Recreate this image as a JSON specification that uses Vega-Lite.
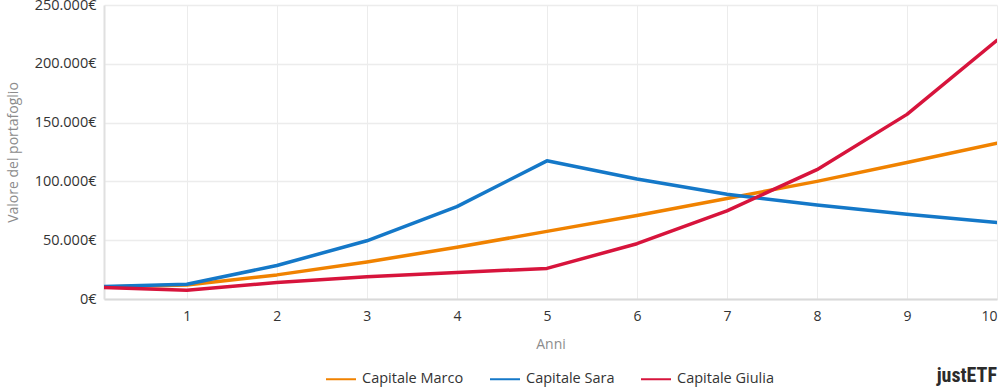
{
  "$schema": "https://vega.github.io/schema/vega-lite/v6.json",
  "width": 893,
  "height": 294,
  "autosize": {"type": "none"},
  "padding": {"left": 104, "top": 5, "right": 3, "bottom": 90},
  "background": "white",
  "config": {
    "font": "Open Sans",
    "view": {"stroke": null},
    "locale": {"number": {"decimal": ",", "thousands": ".", "grouping": [3], "currency": ["", "€"]}}
  },
  "title": {
    "text": "justETF",
    "orient": "bottom",
    "anchor": "end",
    "font": "Roboto Condensed",
    "fontSize": 20,
    "fontWeight": "bold",
    "color": "#2b2b2b",
    "offset": 0,
    "dy": -20
  },
  "data": {
    "values": [
      {"anno": 0, "serie": "Capitale Marco", "valore": 10000},
      {"anno": 1, "serie": "Capitale Marco", "valore": 12000},
      {"anno": 2, "serie": "Capitale Marco", "valore": 20500},
      {"anno": 3, "serie": "Capitale Marco", "valore": 31500},
      {"anno": 4, "serie": "Capitale Marco", "valore": 44000},
      {"anno": 5, "serie": "Capitale Marco", "valore": 57500},
      {"anno": 6, "serie": "Capitale Marco", "valore": 71000},
      {"anno": 7, "serie": "Capitale Marco", "valore": 85500},
      {"anno": 8, "serie": "Capitale Marco", "valore": 100000},
      {"anno": 9, "serie": "Capitale Marco", "valore": 116000},
      {"anno": 10, "serie": "Capitale Marco", "valore": 132500},
      {"anno": 0, "serie": "Capitale Sara", "valore": 10500},
      {"anno": 1, "serie": "Capitale Sara", "valore": 12500},
      {"anno": 2, "serie": "Capitale Sara", "valore": 28500},
      {"anno": 3, "serie": "Capitale Sara", "valore": 49500},
      {"anno": 4, "serie": "Capitale Sara", "valore": 78500},
      {"anno": 5, "serie": "Capitale Sara", "valore": 117500},
      {"anno": 6, "serie": "Capitale Sara", "valore": 102000},
      {"anno": 7, "serie": "Capitale Sara", "valore": 89000},
      {"anno": 8, "serie": "Capitale Sara", "valore": 80000},
      {"anno": 9, "serie": "Capitale Sara", "valore": 72000},
      {"anno": 10, "serie": "Capitale Sara", "valore": 65000},
      {"anno": 0, "serie": "Capitale Giulia", "valore": 10000},
      {"anno": 1, "serie": "Capitale Giulia", "valore": 7500},
      {"anno": 2, "serie": "Capitale Giulia", "valore": 14000},
      {"anno": 3, "serie": "Capitale Giulia", "valore": 19000},
      {"anno": 4, "serie": "Capitale Giulia", "valore": 22500},
      {"anno": 5, "serie": "Capitale Giulia", "valore": 26000},
      {"anno": 6, "serie": "Capitale Giulia", "valore": 47000},
      {"anno": 7, "serie": "Capitale Giulia", "valore": 75000},
      {"anno": 8, "serie": "Capitale Giulia", "valore": 110000},
      {"anno": 9, "serie": "Capitale Giulia", "valore": 157000},
      {"anno": 10, "serie": "Capitale Giulia", "valore": 220000}
    ]
  },
  "mark": {"type": "line", "strokeWidth": 3.5, "strokeJoin": "round", "strokeCap": "round", "clip": true},
  "encoding": {
    "x": {
      "field": "anno",
      "type": "quantitative",
      "scale": {"domain": [0.08, 10], "nice": false, "zero": false},
      "axis": {
        "values": [1, 2, 3, 4, 5, 6, 7, 8, 9, 10],
        "title": "Anni",
        "titleColor": "#8c8c8c",
        "titleFontSize": 14,
        "titleFontWeight": "normal",
        "titlePadding": 14,
        "labelFontSize": 14,
        "labelColor": "#333333",
        "labelPadding": 10,
        "ticks": false,
        "domainColor": "#d9d9d9",
        "domainWidth": 2,
        "gridColor": "#ececec",
        "grid": true
      }
    },
    "y": {
      "field": "valore",
      "type": "quantitative",
      "scale": {"domain": [0, 250000], "nice": false},
      "axis": {
        "values": [0, 50000, 100000, 150000, 200000, 250000],
        "labelExpr": "format(datum.value, ',.0f') + '€'",
        "title": "Valore del portafoglio",
        "titleColor": "#8c8c8c",
        "titleFontSize": 14,
        "titleFontWeight": "normal",
        "titlePadding": 14,
        "labelFontSize": 14.5,
        "labelColor": "#333333",
        "labelPadding": 8,
        "ticks": false,
        "domainColor": "#e0e0e0",
        "domainWidth": 2,
        "gridColor": "#ececec",
        "gridWidth": 1.5
      }
    },
    "color": {
      "field": "serie",
      "type": "nominal",
      "scale": {
        "domain": ["Capitale Marco", "Capitale Sara", "Capitale Giulia"],
        "range": ["#f08200", "#1478c8", "#d7143c"]
      },
      "legend": {
        "orient": "none",
        "direction": "horizontal",
        "legendX": 221,
        "legendY": 358,
        "title": null,
        "symbolType": "stroke",
        "symbolStrokeWidth": 2,
        "symbolSize": 900,
        "labelFontSize": 14.5,
        "labelColor": "#333333",
        "labelOffset": 5,
        "columnPadding": 22
      }
    }
  }
}
